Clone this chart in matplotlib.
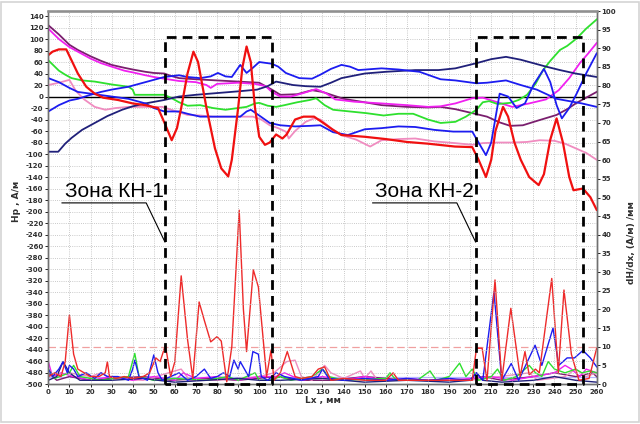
import matplotlib
matplotlib.use('Agg')
import matplotlib.pyplot as plt
from matplotlib.ticker import MultipleLocator

plt.rcParams['axes.unicode_minus'] = False

# --- field Hp along Lx (left axis) ---
lx_purple = [0, 5, 10, 14, 20, 25, 30, 36, 40, 46, 50, 55, 58, 62, 70, 80, 90, 100, 106, 110, 118, 125, 130,
             140, 150, 158, 170, 180, 186, 193, 200, 208, 214, 219, 225, 232, 241, 246, 250.5, 255, 260]
hp_purple = [124, 108, 90, 81, 70, 62, 55, 50, 47, 43, 41, 40, 36, 32, 30, 28, 26, 24, 12, 3, 4, 11, 8,
             -4, -10, -15, -18, -19, -18, -22, -28, -35, -45, -51, -50, -42, -32, -22, -11, -2, 8]

lx_magenta = [0, 5, 10, 14, 20, 25, 30, 36, 40, 46, 50, 55, 62, 70, 75, 77, 80, 90, 98, 103, 106, 110, 115,
              120, 127, 132, 136, 145, 158, 170, 180, 186, 193, 201, 206, 213, 220, 228, 236, 242, 247, 252,
              256, 260]
hp_magenta = [118, 100, 86, 78, 66, 58, 52, 45, 42, 37, 34, 31, 27, 25, 20, 15, 22, 24, 22, 18, 8, 0, 0,
              5, 13, 5, -5, -9, -12, -15, -18, -17, -12, -3, -2, -10, -18, -12, -5, 11, 32, 58,
              75, 93]

lx_green = [0, 5, 8, 11, 16, 22, 30, 38, 40, 41, 48, 55, 58, 62, 66, 72, 78, 84, 88, 94, 98, 100, 104, 108,
            112, 118, 124, 127, 131, 135, 143, 151, 159, 166, 173, 180, 186, 193, 198, 203, 206, 209, 213,
            219, 223, 227, 231, 234.6, 238, 242.6, 246, 250.5, 255, 260]
hp_green = [63, 45, 38, 32, 28, 26, 21, 17, 12, 3, 3, 3, -2, -10, -16, -15, -20, -23, -21, -18, -12, -11, -16,
            -18, -15, -10, -6, -3, -15, -23, -26, -29, -33, -30, -30, -40, -46, -44, -35, -23, -10, -8, -13,
            -11, -6, 3, 22, 46, 62, 81, 88, 101, 118, 134]

lx_navy = [0, 4.7, 8, 11, 16, 22, 28, 35, 40, 46, 55, 62, 70, 80, 90, 99, 104, 108, 116, 122, 129, 134, 139,
           150, 160, 174, 185, 193, 203, 210, 217, 224, 230, 236, 242.6, 250, 255, 260]
hp_navy = [-96, -96, -82, -72, -58, -46, -34, -23, -17, -12, -6, 0, 3, 6, 9, 12, 18, 26, 20, 18, 17, 24, 32,
           40, 43, 46, 46, 49, 58, 65, 69, 64, 58, 52, 46, 40, 37, 34]

lx_blue1 = [0, 5, 10, 14, 20, 25, 30, 38, 45, 50, 55, 62, 66, 72, 77, 80.4, 84, 87, 91, 94, 97, 100, 106, 109,
            112.6, 119, 125, 129, 134, 139, 143, 147, 158, 166, 176, 186, 193, 203, 208, 217, 224, 231.6,
            241, 247, 253, 260]
hp_blue1 = [-26, -15, -7, -4, 3, 8, 12, 17, 24, 29, 34, 37, 34, 32, 35, 41, 35, 34, 55, 41, 50, 60, 57, 52,
            41, 32, 31, 38, 48, 55, 52, 46, 49, 47, 43, 30, 28, 23, 24, 28, 20, 12,
            -4, -8, -12, -18]

lx_blue2 = [0, 5, 10, 14, 20, 30, 38, 46, 50, 55, 62, 66, 72, 80, 88, 91, 94, 96, 100, 105, 110, 117, 124,
            129, 135, 142, 150, 158, 166, 174, 183, 192, 201, 204, 207.5, 210, 214, 218, 222, 226, 230,
            235, 238, 241, 243.5, 247, 250.5, 255, 260]
hp_blue2 = [32, 25, 15, 8, 5, 0, -4, -12, -20, -26, -26, -30, -35, -35, -35, -35, -26, -23, -33, -46, -50,
            -52, -51, -50, -62, -67, -57, -55, -52, -53, -58, -61, -61, -80, -102, -80, 5, 0, -20, -12,
            20, 48, 25, -15, -38, -20, 5, 40, 75]

lx_red = [0, 2, 5, 8.5, 11, 14, 18, 22, 26, 33, 40, 46, 52, 55, 58.5, 61, 63, 66, 68.8, 71, 75, 79, 82, 85.3,
          87, 90, 92, 94, 96, 98, 100, 102.7, 105, 108, 111, 113, 117, 121, 126, 130, 135, 139, 150, 160, 170,
          180, 192.8, 201, 204, 207.5, 210, 212, 215.6, 218, 221, 224, 228, 232.5, 235, 238, 241, 244, 247,
          249, 253.5, 257, 260]
hp_red = [72, 78, 82, 82, 63, 40, 17, 5, -2, -6, -12, -15, -20, -45, -76, -55, -20, 40, 78, 60, -20, -90,
          -125, -139, -110, -20, 50, 87, 60, -20, -70, -84, -80, -66, -73, -66, -40, -35, -35, -45, -58, -67,
          -70, -74, -79, -82, -87, -88, -110, -140, -110, -60, -18, -35, -80, -110, -140, -154, -135, -75,
          -38, -80, -140, -163, -160, -175, -197]

lx_pink = [0, 5, 10, 13, 17, 22, 27, 32, 38, 46, 54, 60, 66, 72, 78, 90, 97, 101, 105, 109, 112.6, 114,
           117, 122, 126, 129, 134, 139, 146, 152.6, 158, 166, 174, 183, 192.8, 201, 206, 213, 220, 227,
           233, 240, 245, 250, 255, 260]
hp_pink = [20, 24, 29, 10, -5, -18, -23, -20, -18, -18, -18, -25, -32, -33, -35, -35, -35, -40, -50, -55,
           -61, -73, -60, -44, -38, -40, -55, -67, -75, -87, -76, -74, -73, -78, -81, -84, -81, -80, -80,
           -79, -76, -77, -82, -90, -98, -110]

# --- gradient dH/dx along Lx (right axis) ---
gx_red = [0, 3, 6, 8, 10, 12, 14, 17, 20, 24, 27, 28, 29, 32, 36, 40, 45, 48, 51, 53, 55.5, 58, 60, 63, 66,
          68.5, 71.5, 74, 77, 80, 82, 84.6, 87, 90.5, 92.5, 94, 97.2, 99.6, 103.5, 105.6, 107, 110, 113.3,
          117, 120, 125, 128, 131, 134, 140, 150, 160, 163.5, 166, 180, 195, 201, 203, 205.7, 208, 211.8,
          215, 219.3, 223.7, 226, 228, 231, 232.8, 238.7, 241.8, 244.5, 248, 251.6, 256.4, 260]
gd_red = [2, 3, 2, 6, 18.5, 8, 4, 3, 2, 2, 3, 6, 2, 1.5, 2, 1.5, 2, 3, 7, 6, 10.4, 2, 6, 29, 12,
          1.5, 22, 17, 11.3, 12.7, 11.5, 0.6, 10, 46.6, 20, 8.7, 30.6, 26, 2, 9.1, 1, 3, 8.7,
          2, 1.5, 2, 4, 4.6, 1, 1.5, 1, 1, 3, 1, 1, 1, 1, 9.6, 9.6, 1, 27.9,
          1, 20.3, 2, 8.7, 2.5, 4, 3, 28.3, 3, 25.2, 8, 1, 1.5, 9.6]

gx_blue = [0, 2, 5, 7, 9, 10, 12, 14, 18, 22, 25, 28, 33, 38, 40, 41, 43, 47, 50, 52, 54, 58, 62, 66, 70, 74,
           77, 80, 83, 86, 88, 90, 91, 93, 95, 97, 99.6, 101, 104, 108, 112, 116, 120, 128, 130, 133, 140,
           150, 160, 170, 180, 190, 200, 203, 206, 211.3, 215, 219.5, 223, 230.8, 234, 239.3, 242, 246,
           249.5, 253.5, 257, 260]
gd_blue = [4, 2, 4, 6, 3, 5, 4, 2, 3, 1.5, 3, 2, 2, 1, 4, 6.4, 2, 1, 7.8, 3, 1, 2, 3, 1, 2, 4,
           1.5, 2, 3, 2, 6.4, 4, 6, 4, 2, 8.7, 8, 2, 1, 3, 2, 1.5, 1, 2, 4, 1.5, 1,
           1.5, 1, 1.5, 1, 1.5, 1, 3, 1, 24.7, 1, 5.5, 1, 10.4, 5, 15, 5, 7,
           7, 9, 7, 4.6]

gx_navy = [0, 4, 7, 10, 15, 30, 45, 52, 60, 75, 90, 100, 110, 130, 150, 170, 190, 200, 203, 206, 215,
           230, 240, 250, 260]
gd_navy = [1, 2, 6, 3, 1, 1, 1.5, 1, 0.5, 1, 1.5, 1, 1, 1.5, 0.5, 1, 0.5, 1, 3, 1, 0.5,
           1, 2, 1, 0.5]

gx_green = [0, 3, 10, 12, 15, 25, 38, 41, 43, 50, 60, 75, 85, 90, 98, 100, 105, 110, 115, 125, 130, 133,
            140, 160, 162, 165, 175, 181, 184, 190, 195, 198, 201, 204, 210, 213, 216, 222, 226, 228, 231,
            234, 237, 240, 245, 250, 253, 257, 260]
gd_green = [4, 1.5, 3, 5, 2, 1, 2, 8.2, 2, 1, 1.5, 1, 2, 1, 3, 1, 1, 2, 1, 2, 4, 2,
            1, 1.5, 3, 1, 1, 3.5, 1, 2, 5.6, 2, 4, 1, 2, 4, 1, 2, 4, 5, 3,
            2, 6, 4, 3, 4, 3, 3.5, 3]

gx_magenta = [0, 2, 6, 12, 20, 30, 40, 50, 60, 64, 70, 80, 90, 100, 108, 112, 120, 130, 140, 150, 160,
              170, 180, 190, 200, 210, 220, 230, 240, 245, 248, 252, 255, 260]
gd_magenta = [6, 2, 3, 2, 1, 2, 1, 2, 1, 3, 1.5, 2, 1, 2, 2, 3, 1, 2, 1, 2, 1,
              1.5, 1, 1, 1.5, 2, 1, 2, 3, 5, 4, 2, 4, 3]

gx_pink = [0, 10, 20, 25, 30, 45, 63, 67, 80, 100, 107, 113, 117, 120, 125, 131, 134, 140, 148, 150, 153,
           156, 170, 200, 228, 232, 245, 250, 255, 260]
gd_pink = [2, 3, 2, 3, 1.5, 1, 4, 1, 1, 2, 3, 6, 6.4, 2, 1, 5, 3, 1.5, 3.5, 1.5, 3.5,
           1, 1, 1, 3, 1, 2, 4, 2, 3]

gx_purple = [0, 4, 10, 20, 30, 45, 58, 75, 90, 108, 120, 135, 150, 170, 200, 206, 215, 230, 240, 250,
             258, 260]
gd_purple = [3, 1, 2, 1, 1.5, 2, 1, 1.5, 1, 2, 1, 1, 2, 1, 1, 2, 1, 2, 3, 2, 3, 2]

# zones: left edge, right edge, label
zones = [(55.3, 106.0, 'Зона КН-1'), (202.6, 253.5, 'Зона КН-2')]
zone_top = 104

C_RED = '#f01010'
C_GREEN = '#2ee02e'
C_MAGENTA = '#f020f0'
C_PURPLE = '#7a1f6e'
C_NAVY = '#20207a'
C_BLUE = '#1c1cf0'
C_PINK = '#f08cc0'

fig = plt.figure(figsize=(6.4, 4.24), dpi=100)
fig.patch.set_facecolor('white')
ax = fig.add_axes([0.0755, 0.0943, 0.8568, 0.8797])
ax2 = ax.twinx()
ax.set_zorder(ax2.get_zorder() + 1)
ax.patch.set_visible(False)
ax2.patch.set_facecolor('white')

# gradients first (underneath)
lw_g = 1.0
ax2.axhline(10, color='#f0a0a0', lw=0.9, ls=(0, (6, 3)))
ax2.axhline(2, color='#b4b4ff', lw=0.9)
ax2.plot(gx_purple, gd_purple, color=C_PURPLE, lw=lw_g)
ax2.plot(gx_pink, gd_pink, color=C_PINK, lw=lw_g)
ax2.plot(gx_magenta, gd_magenta, color=C_MAGENTA, lw=lw_g)
ax2.plot(gx_green, gd_green, color=C_GREEN, lw=lw_g)
ax2.plot(gx_navy, gd_navy, color=C_NAVY, lw=lw_g)
ax2.plot(gx_blue, gd_blue, color=C_BLUE, lw=lw_g)
ax2.plot(gx_red, gd_red, color='#ee2a2a', lw=lw_g)

# field curves
ax.axhline(0, color='black', lw=1.0)
lw_f = 1.3
ax.plot(lx_pink, hp_pink, color=C_PINK, lw=lw_f)
ax.plot(lx_purple, hp_purple, color=C_PURPLE, lw=lw_f)
ax.plot(lx_magenta, hp_magenta, color=C_MAGENTA, lw=lw_f)
ax.plot(lx_green, hp_green, color=C_GREEN, lw=lw_f)
ax.plot(lx_navy, hp_navy, color=C_NAVY, lw=lw_f)
ax.plot(lx_blue2, hp_blue2, color=C_BLUE, lw=lw_f)
ax.plot(lx_blue1, hp_blue1, color=C_BLUE, lw=lw_f)
ax.plot(lx_red, hp_red, color=C_RED, lw=1.6)

# zone boxes + callouts
for x0, x1, label in zones:
    ax.plot([x0, x0, x1, x1, x0], [-500, zone_top, zone_top, -500, -500], color='black',
            lw=2.0, ls=(0, (3.5, 2.2)), zorder=5, clip_on=False)
    ax.plot([x0 - 48.8, x0 - 8.9, x0], [-185, -185, -253], color='black', lw=0.8, zorder=5)
    ax.text(x0 - 47.5, -175, label, fontsize=15, family='Liberation Sans', ha='left', va='baseline')

ax.set_xlim(0, 260)
ax.set_ylim(-500, 148.7)
ax2.set_ylim(0, 100)
ax.xaxis.set_major_locator(MultipleLocator(10))
ax.yaxis.set_major_locator(MultipleLocator(20))
ax2.yaxis.set_major_locator(MultipleLocator(5))
ax.set_yticks(range(-500, 141, 20))

ax.grid(True, color='#b8b8b8', ls=(0, (1, 1.6)), lw=0.6)
ax.set_axisbelow(True)

tick_kw = dict(labelsize=5.0, length=2, width=0.6, pad=1.5, labelcolor='#303030')
ax.tick_params(axis='both', **tick_kw)
ax2.tick_params(axis='y', **tick_kw)
for lab in ax.get_xticklabels() + ax.get_yticklabels() + ax2.get_yticklabels():
    lab.set_fontweight('bold')

ax.set_ylabel('Hp , A/м', fontsize=6.5, fontweight='bold', color='#303030')
ax.yaxis.set_label_coords(-0.05, 0.49)
ax2.set_ylabel('dH/dx, (A/м) /мм', fontsize=6.5, fontweight='bold', color='#303030')
ax2.yaxis.set_label_coords(1.055, 0.38)
ax.set_xlabel('Lx , мм', fontsize=6.5, fontweight='bold', labelpad=1, color='#303030')

for a in (ax, ax2):
    for s in a.spines.values():
        s.set_color('#707070')
        s.set_linewidth(1.0)
ax.spines['top'].set_color('#909090')
ax.spines['top'].set_linewidth(1.8)

fig.add_artist(plt.Rectangle((0.002, 0.004), 0.996, 0.992, transform=fig.transFigure,
                             fill=False, edgecolor='#d4d4d4', lw=1.2))

fig.savefig('out.png', dpi=100)
